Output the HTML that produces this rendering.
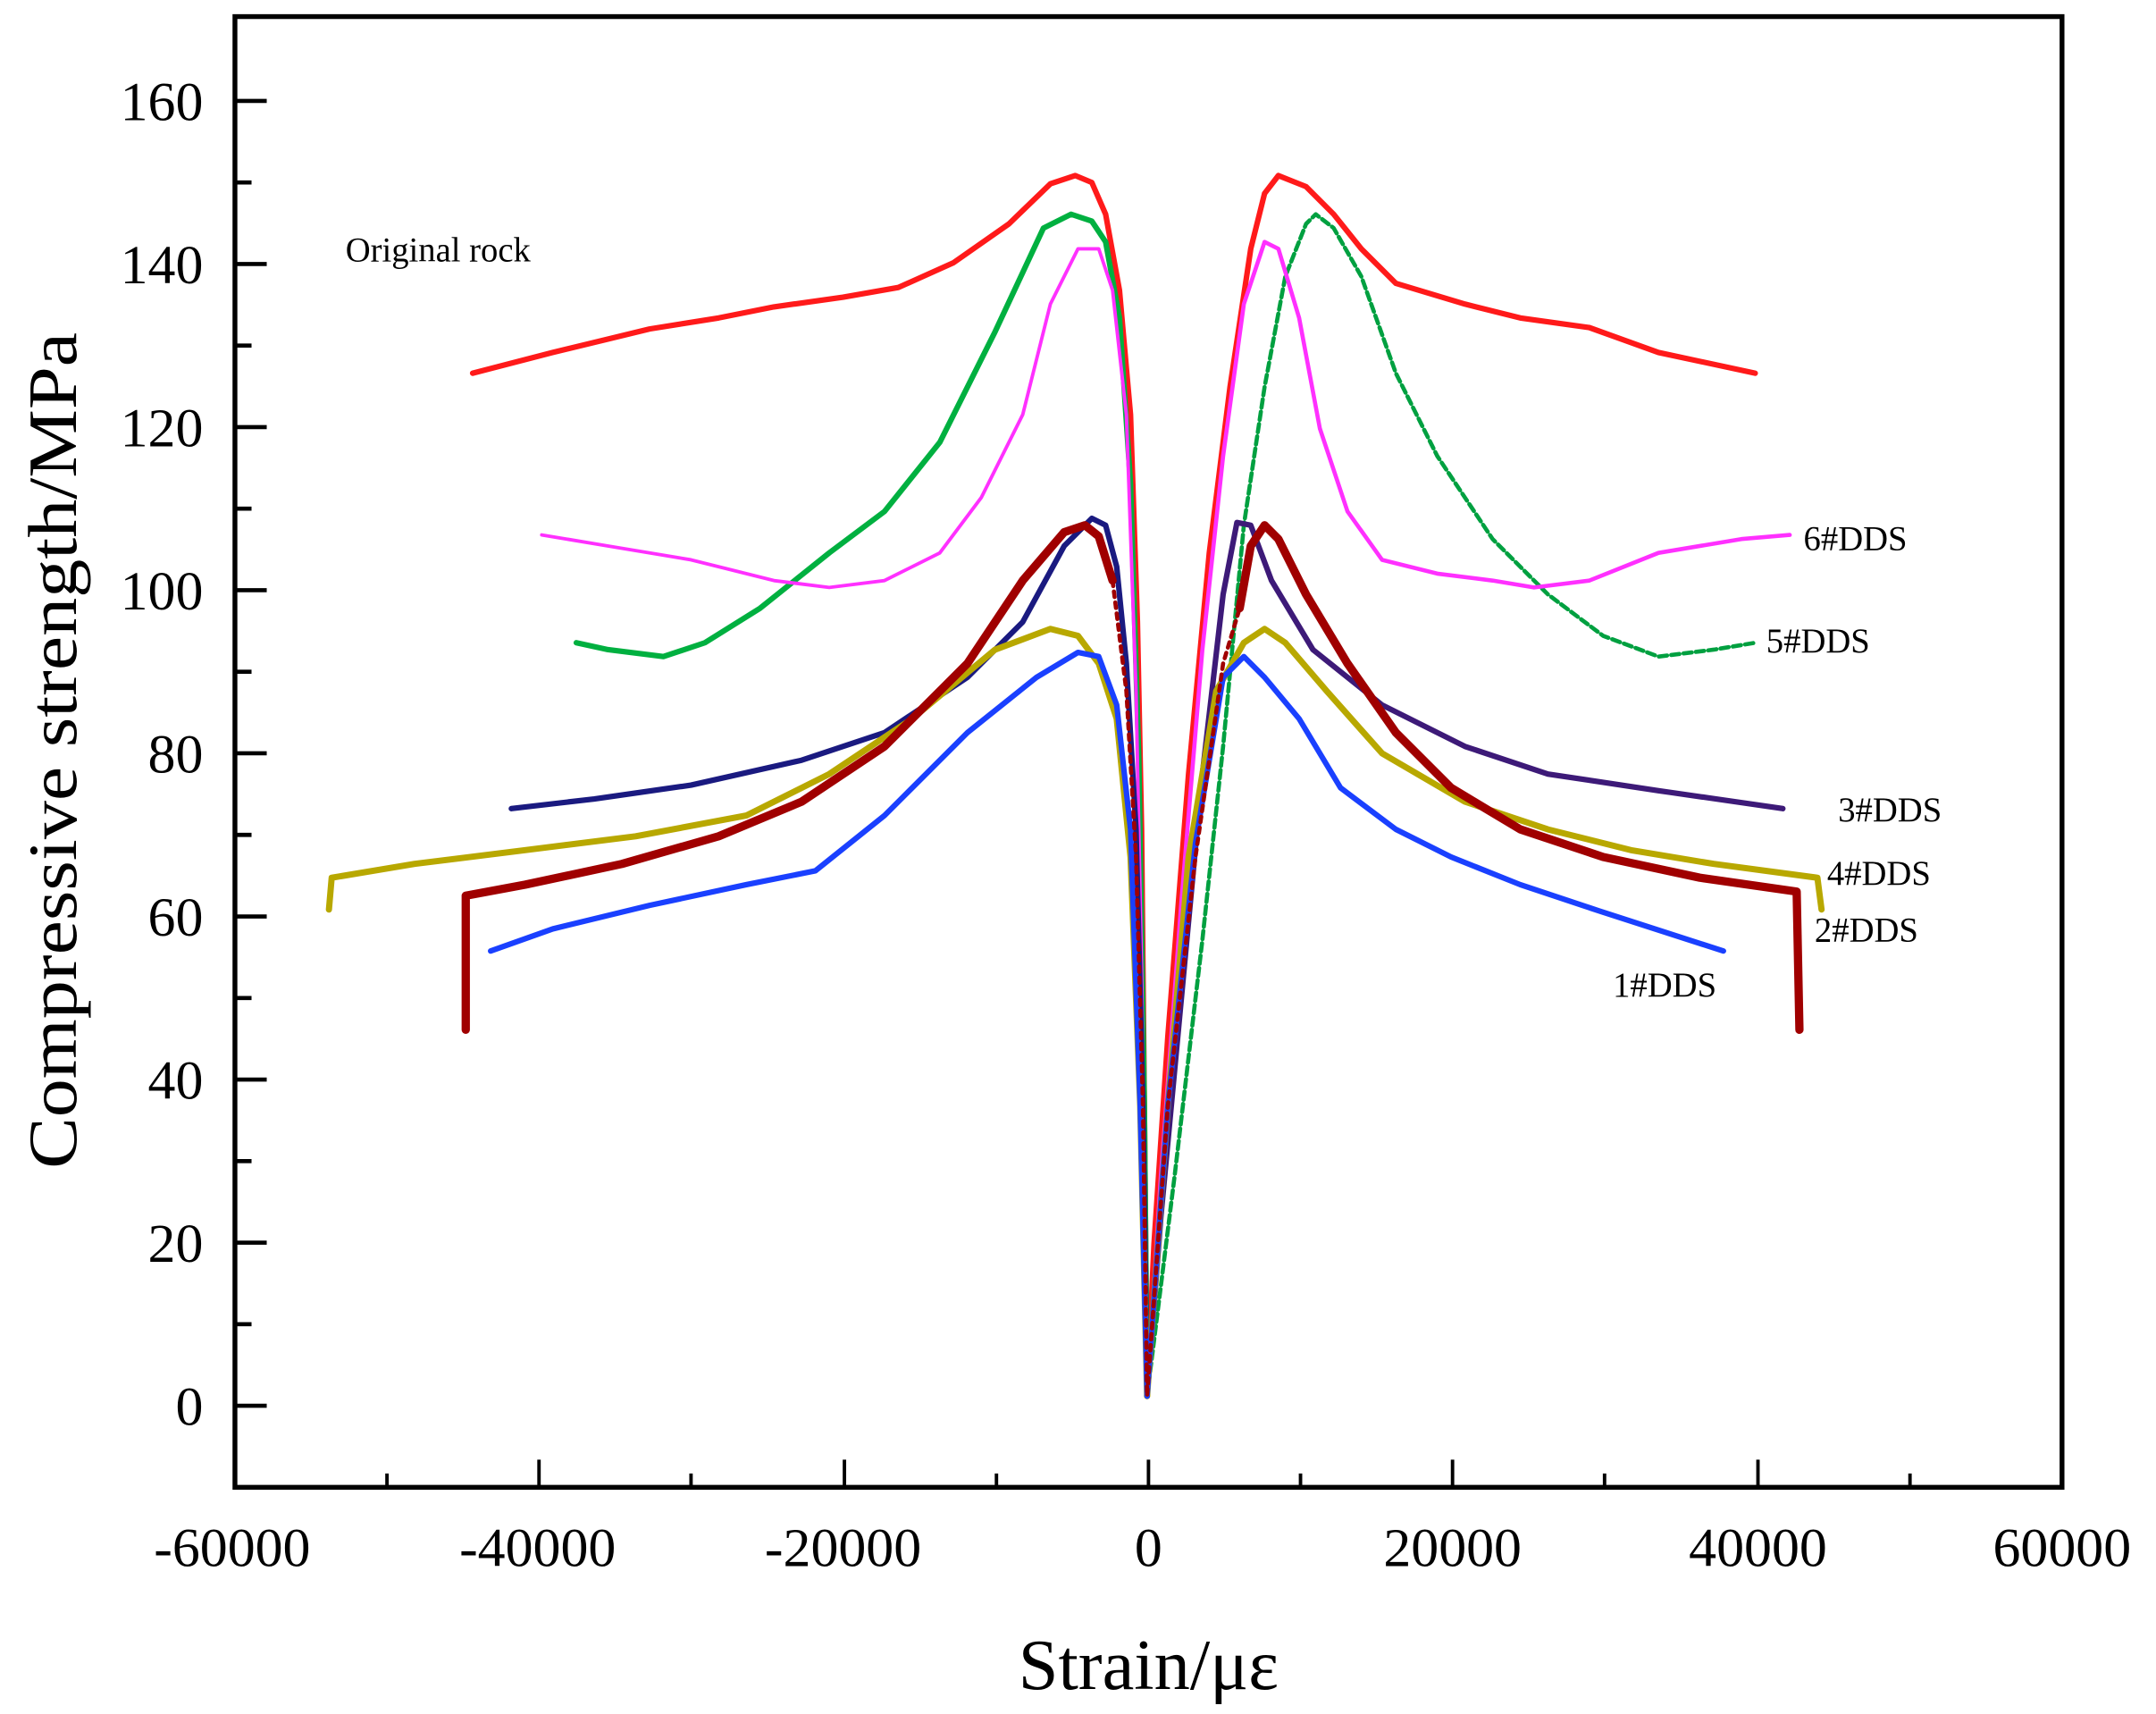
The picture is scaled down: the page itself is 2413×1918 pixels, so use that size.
<!DOCTYPE html>
<html><head><meta charset="utf-8"><style>html,body{margin:0;padding:0;background:#fff}svg{display:block}</style></head>
<body>
<svg width="2413" height="1918" viewBox="0 0 1560 1240" preserveAspectRatio="none" xmlns="http://www.w3.org/2000/svg" font-family="Liberation Serif, serif">
<rect width="1560" height="1240" fill="#fff"/>
<g fill="none" stroke-linejoin="round" stroke-linecap="round">
<!-- red -->
<polyline stroke="#ff1a1a" stroke-width="4" points="342,270 400,255 470,238 520,230 560,222 610,215 650,208 690,190 730,162 760,133 778,127 790,132 800,155 810,210 818,300 823,450 826,600 828,800 830,1010"/>
<polyline stroke="#ff1a1a" stroke-width="4" points="830,1010 835,900 845,750 860,560 875,400 890,280 905,180 915,140 925,127 945,135 965,155 985,180 1010,205 1060,220 1100,230 1150,237 1200,255 1270,270"/>
<!-- green -->
<polyline stroke="#00b040" stroke-width="4" points="417,465 440,470 480,475 510,465 550,440 600,400 640,370 680,320 720,240 755,165 775,155 790,160 800,175 810,230 818,350 824,550 828,800 830,1010"/>
<polyline stroke="#00a040" stroke-width="3" stroke-dasharray="6 3" points="830,1010 850,850 870,680 885,540 900,380 915,280 930,200 945,162 952,155 965,165 985,200 1010,270 1040,330 1080,390 1120,430 1160,460 1200,475 1240,470 1270,465"/>
<!-- magenta -->
<polyline stroke="#ff30ff" stroke-width="2.5" points="392,387 440,395 500,405 560,420 600,425 640,420 680,400 710,360 740,300 760,220 780,180 795,180 805,210 815,300 822,500 826,700 830,1010"/>
<polyline stroke="#ff30ff" stroke-width="3" points="830,1010 840,850 855,650 870,470 885,330 900,220 915,175 925,180 940,230 955,310 975,370 1000,405 1040,415 1080,420 1110,425 1150,420 1200,400 1260,390 1295,387"/>
<!-- navy / purple -->
<polyline stroke="#1a1a80" stroke-width="4" points="370,585 430,578 500,568 580,550 640,530 700,490 740,450 770,395 790,375 800,380 808,410 815,480 822,600 827,800 830,1010"/>
<polyline stroke="#3d1a78" stroke-width="4" points="830,1010 840,880 855,720 870,560 885,430 895,378 905,380 920,420 950,470 1000,510 1060,540 1120,560 1200,572 1290,585"/>
<!-- olive -->
<polyline stroke="#b8a800" stroke-width="4.5" points="238,658 240,635 300,625 380,615 460,605 540,590 600,560 660,520 720,470 760,455 780,460 795,480 808,520 818,620 825,800 830,1010"/>
<polyline stroke="#b8a800" stroke-width="4.5" points="830,1010 845,800 860,620 880,500 900,465 915,455 930,465 960,500 1000,545 1060,580 1120,600 1180,615 1240,625 1315,635 1318,658"/>
<!-- blue -->
<polyline stroke="#1a40ff" stroke-width="4" points="355,688 400,672 470,655 540,640 590,630 640,590 700,530 750,490 780,472 795,475 808,510 818,600 825,800 830,1010"/>
<polyline stroke="#1a40ff" stroke-width="4" points="830,1010 845,800 865,610 885,490 900,475 915,490 940,520 970,570 1010,600 1050,620 1100,640 1160,660 1247,688"/>
<!-- dark red -->
<polyline stroke="#a00000" stroke-width="6" points="337,745 337,648 380,640 450,625 520,605 580,580 640,540 700,480 740,420 770,385 785,380 795,388 805,420"/>
<polyline stroke="#a00000" stroke-width="3" stroke-dasharray="4 4" points="805,420 815,500 822,620 827,800 830,1010 845,800 865,620 885,480 897,440"/>
<polyline stroke="#a00000" stroke-width="6" points="897,440 905,395 915,380 925,390 945,430 975,480 1010,530 1050,570 1100,600 1160,620 1230,635 1300,645 1302,745"/>
</g>
<!-- axes -->
<rect x="170" y="12" width="1322" height="1064" fill="none" stroke="#000" stroke-width="3.5"/>
<g stroke="#000" stroke-width="3">
<line x1="170" y1="1017" x2="193" y2="1017"/><line x1="170" y1="958" x2="182" y2="958"/>
<line x1="170" y1="899" x2="193" y2="899"/><line x1="170" y1="840" x2="182" y2="840"/>
<line x1="170" y1="781" x2="193" y2="781"/><line x1="170" y1="722" x2="182" y2="722"/>
<line x1="170" y1="663" x2="193" y2="663"/><line x1="170" y1="604" x2="182" y2="604"/>
<line x1="170" y1="545" x2="193" y2="545"/><line x1="170" y1="486" x2="182" y2="486"/>
<line x1="170" y1="427" x2="193" y2="427"/><line x1="170" y1="368" x2="182" y2="368"/>
<line x1="170" y1="309" x2="193" y2="309"/><line x1="170" y1="250" x2="182" y2="250"/>
<line x1="170" y1="191" x2="193" y2="191"/><line x1="170" y1="132" x2="182" y2="132"/>
<line x1="170" y1="73" x2="193" y2="73"/>
</g>
<g stroke="#000" stroke-width="2.5">
<line x1="280" y1="1076" x2="280" y2="1066"/><line x1="390" y1="1076" x2="390" y2="1056"/>
<line x1="500" y1="1076" x2="500" y2="1066"/><line x1="611" y1="1076" x2="611" y2="1056"/>
<line x1="721" y1="1076" x2="721" y2="1066"/><line x1="831" y1="1076" x2="831" y2="1056"/>
<line x1="941" y1="1076" x2="941" y2="1066"/><line x1="1051" y1="1076" x2="1051" y2="1056"/>
<line x1="1161" y1="1076" x2="1161" y2="1066"/><line x1="1272" y1="1076" x2="1272" y2="1056"/>
<line x1="1382" y1="1076" x2="1382" y2="1066"/>
</g>
<g font-size="40" text-anchor="end" fill="#000">
<text x="147" y="1031">0</text><text x="147" y="913">20</text><text x="147" y="795">40</text>
<text x="147" y="677">60</text><text x="147" y="559">80</text><text x="147" y="441">100</text>
<text x="147" y="323">120</text><text x="147" y="205">140</text><text x="147" y="87">160</text>
</g>
<g font-size="40" text-anchor="middle" fill="#000">
<text x="168" y="1133">-60000</text><text x="389" y="1133">-40000</text><text x="610" y="1133">-20000</text>
<text x="831" y="1133">0</text><text x="1051" y="1133">20000</text><text x="1272" y="1133">40000</text>
<text x="1492" y="1133">60000</text>
</g>
<text x="831" y="1222" font-size="52" text-anchor="middle">Strain/με</text>
<text transform="translate(55,543) rotate(-90)" font-size="50" text-anchor="middle" textLength="605" lengthAdjust="spacingAndGlyphs">Compressive strength/MPa</text>
<g font-size="25" fill="#000">
<text x="250" y="189">Original rock</text>
<text x="1305" y="398">6#DDS</text>
<text x="1278" y="472">5#DDS</text>
<text x="1330" y="594">3#DDS</text>
<text x="1322" y="640">4#DDS</text>
<text x="1313" y="681">2#DDS</text>
<text x="1167" y="721">1#DDS</text>
</g>
</svg>
</body></html>
